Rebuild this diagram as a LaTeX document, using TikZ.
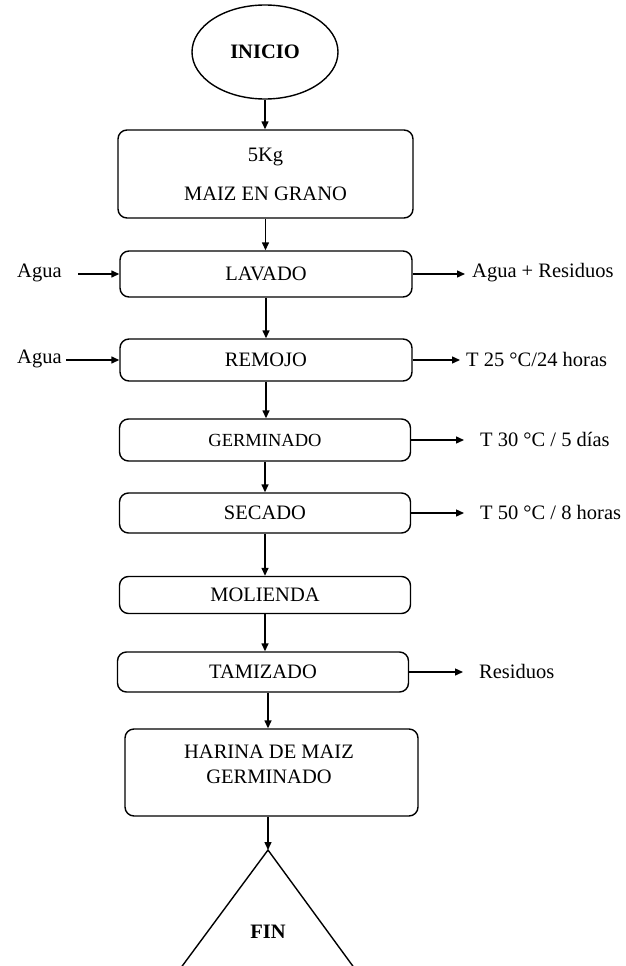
\documentclass[tikz,border=0pt]{standalone}
\usepackage{fontspec}
\setmainfont{Liberation Serif}
\usetikzlibrary{shapes.geometric,arrows.meta}
\begin{document}
\begin{tikzpicture}[x=1pt,y=-1pt,
  txt/.style={font=\fontsize{20.5}{24}\selectfont},
  box/.style={draw, rounded corners=9pt, line width=1.4pt, minimum width=292pt, inner sep=0pt, txt},
  arr/.style={-{Triangle[length=8pt,width=7pt]}, line width=1.4pt},
  lbl/.style={inner sep=0pt, txt}]
\useasboundingbox (0,0) rectangle (626,966);
% start
\node[draw, ellipse, line width=1.4pt, minimum width=146pt, minimum height=94pt, inner sep=0pt,
      font=\bfseries\fontsize{20.5}{24}\selectfont] (inicio) at (265,52) {INICIO};
% process boxes
\node[box, minimum width=295pt, minimum height=88pt, align=center] (b1) at (265.5,174) {5Kg\\[15pt]MAIZ EN GRANO};
\node[box, minimum height=46pt] (lav) at (266,274) {LAVADO};
\node[box, minimum height=42pt] (rem) at (266,360) {REMOJO};
\node[box, minimum width=291pt, minimum height=42pt, font=\fontsize{18.5}{22}\selectfont] (ger) at (265,440) {GERMINADO};
\node[box, minimum width=291pt, minimum height=40pt] (sec) at (265,513) {SECADO};
\node[box, minimum width=291pt, minimum height=37pt] (mol) at (265,595) {MOLIENDA};
\node[box, minimum width=291pt, minimum height=40pt] (tam) at (263,672) {TAMIZADO};
\node[box, minimum width=293pt, minimum height=87pt] (har) at (271.5,772.5) {};
\node[lbl, align=center, font=\fontsize{20.5}{25}\selectfont] (hartxt) at (269,764) {HARINA DE MAIZ\\GERMINADO};
% end
\coordinate (apex) at (268,850);
\node[lbl, font=\bfseries\fontsize{20.5}{24}\selectfont] (fin) at (268,932) {FIN};
\draw[line width=1.4pt] (180,969) -- (apex) -- (355,969);
% vertical flow
\draw[arr] (inicio.south) -- (inicio.south |- b1.north);
\draw[arr] (b1.south) -- (b1.south |- lav.north);
\draw[arr] (lav.south) -- (lav.south |- rem.north);
\draw[arr] (rem.south) -- (rem.south |- ger.north);
\draw[arr] (ger.south) -- (ger.south |- sec.north);
\draw[arr] (sec.south) -- (sec.south |- mol.north);
\draw[arr] (mol.south) -- (mol.south |- tam.north);
\draw[arr] (tam.south -| apex) -- (har.north -| apex);
\draw[arr] (har.south -| apex) -- (apex);
% inputs
\node[lbl, anchor=west] (agua1) at (17,273) {Agua};
\node[lbl, anchor=west] (agua2) at (17,359) {Agua};
\coordinate (a1s) at (78,274);
\coordinate (a2s) at (66,360);
\draw[arr] (a1s) -- (lav.west);
\draw[arr] (a2s) -- (rem.west);
% outputs
\node[lbl, anchor=west] (o1) at (472,273) {Agua + Residuos};
\node[lbl, anchor=west] (o2) at (466,359) {T 25 °C/24 horas};
\node[lbl, anchor=west] (o3) at (480,439) {T 30 °C / 5 días};
\node[lbl, anchor=west] (o4) at (480,512) {T 50 °C / 8 horas};
\node[lbl, anchor=west] (o5) at (479,671) {Residuos};
\draw[arr] (lav.east) -- ([xshift=-7pt]lav.east -| o1.west);
\draw[arr] (rem.east) -- ([xshift=-6pt]rem.east -| o2.west);
\draw[arr] (ger.east) -- ([xshift=-16pt]ger.east -| o3.west);
\draw[arr] (sec.east) -- ([xshift=-16pt]sec.east -| o4.west);
\draw[arr] (tam.east) -- ([xshift=-16pt]tam.east -| o5.west);
\end{tikzpicture}
\end{document}
